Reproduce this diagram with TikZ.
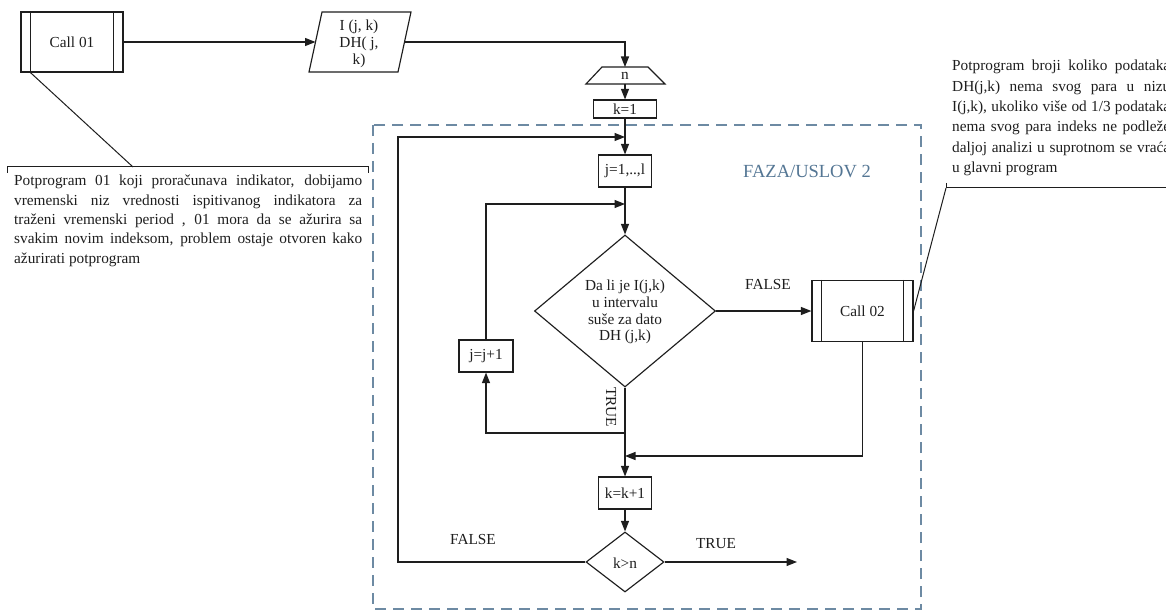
\documentclass[tikz,border=0pt]{standalone}
\usepackage{fontspec}
\setmainfont{Liberation Serif}
\usetikzlibrary{arrows.meta,shapes.geometric}
\definecolor{phaseblue}{RGB}{109,138,163}
\definecolor{phasetext}{RGB}{84,118,148}
\definecolor{ink}{RGB}{30,30,30}
\begin{document}
\begin{tikzpicture}[x=1pt,y=-1pt,
  every node/.style={font=\fontsize{15.3}{16.7}\selectfont, text=ink},
  ln/.style={line width=1.15pt, draw=ink},
  arr/.style={ln, -{Triangle[length=10.5pt,width=8pt]}},
  pbox/.style={rectangle, draw=ink, line width=1.15pt, fill=white, inner sep=0pt},
  dia/.style={diamond, draw=ink, line width=1.15pt, fill=white, inner sep=0pt},
  lbl/.style={inner sep=0pt},
  note/.style={anchor=north west, inner sep=0pt, align=left},
  phase/.style={draw=phaseblue, line width=1.2pt, dash pattern=on 11pt off 7pt}
]
\useasboundingbox (0,0) rectangle (1166,612);
\clip (0,0) rectangle (1166,612);
\fill[white] (0,0) rectangle (1166,612);

% phase frame
\draw[phase] (373,125) rectangle (921,609);
\node[font=\fontsize{18.5}{20}\selectfont, text=phasetext, anchor=west, inner sep=0pt] (faza) at (743,172) {FAZA/USLOV 2};

% Call 01
\node[pbox, minimum width=102pt, minimum height=60pt] (call01) at (72,42) {Call 01};
\draw[ln] ([xshift=10pt]call01.north west) -- ([xshift=10pt]call01.south west);
\draw[ln] ([xshift=-10pt]call01.north east) -- ([xshift=-10pt]call01.south east);

% input parallelogram
\draw[ln, fill=white] (309,72) -- (322,12) -- (411,12) -- (398,72) -- cycle;
\node[align=center, font=\fontsize{15.3}{17}\selectfont] (io) at (359,44) {I (j, k)\\DH( j,\\k)};
\coordinate (ioL) at (315.5,42);
\coordinate (ioR) at (404.5,42);

% n trapezoid
\draw[ln, fill=white] (586,84) -- (602,67) -- (648,67) -- (665,84) -- cycle;
\node (n) at (625,76) {n};
\coordinate (nT) at (625,67);
\coordinate (nB) at (625,84);

% process boxes
\node[pbox, minimum width=63pt, minimum height=18pt] (k1) at (625,109) {k=1};
\node[pbox, minimum width=53pt, minimum height=32pt] (j1) at (625,171) {j=1,..,l};
\node[dia, minimum width=181pt, minimum height=152pt] (d1) at (625,311) {};
\node[align=center, inner sep=0pt] (d1t) at (625,312) {Da li je I(j,k)\\u intervalu\\suše za dato\\DH (j,k)};
\node[pbox, minimum width=101pt, minimum height=61pt] (call02) at (862.5,311) {Call 02};
\draw[ln] ([xshift=10pt]call02.north west) -- ([xshift=10pt]call02.south west);
\draw[ln] ([xshift=-10pt]call02.north east) -- ([xshift=-10pt]call02.south east);
\node[pbox, minimum width=54pt, minimum height=32pt] (jj) at (486,356) {j=j+1};
\node[pbox, minimum width=53pt, minimum height=32pt] (kk) at (625,493) {k=k+1};
\node[dia, minimum width=78pt, minimum height=60pt] (d2) at (625,562) {};
\node[inner sep=0pt] (d2t) at (625,563) {k>n};

% helper coordinates
\coordinate (cTrue) at (625,433);
\coordinate (cJ) at (625,204);
\coordinate (cMerge) at (625,456);
\coordinate (cOut) at (797,562);
\coordinate (cLoop) at (398,562);
\coordinate (cTop) at (625,137);

% connectors
\draw[arr] (call01.east) -- (ioL);
\draw[arr] (ioR) -| (nT);
\draw[arr] (nB) -- (k1.north);
\draw[arr] (k1.south) -- (j1.north);
\draw[arr] (j1.south) -- (d1.north);
\draw[arr] (d1.east) -- (call02.west);
\draw[arr] (cTrue) -| (jj.south);
\draw[arr] (jj.north) |- (cJ);
\draw[arr] (d1.south) -- (kk.north);
\draw[arr] (call02.south) |- (cMerge);
\draw[arr] (kk.south) -- (d2.north);
\draw[arr] (d2.east) -- (cOut);
\draw[arr] (d2.west) -- (cLoop) |- (cTop);

% labels
\node[lbl] (f1) at (768,285) {FALSE};
\node[lbl, rotate=-90] (t1) at (611,407) {TRUE};
\node[lbl] (f2) at (473,540) {FALSE};
\node[lbl] (t2) at (716,544) {TRUE};

% annotation 1
\coordinate (b1) at (133,167);
\draw[ln, line width=1pt] (7,173) -- (7,167) -- (368,167) -- (368,173);
\draw[ln, line width=1pt] ([xshift=10pt]call01.south west) -- (b1);
\node[note, font=\fontsize{15.3}{19.3}\selectfont] (ann1) at (14,175) {%
\makebox[348pt][s]{Potprogram 01 koji proračunava indikator, dobijamo}\\
\makebox[348pt][s]{vremenski niz vrednosti ispitivanog indikatora za}\\
\makebox[348pt][s]{traženi vremenski period , 01 mora da se ažurira sa}\\
\makebox[348pt][s]{svakim novim indeksom, problem ostaje otvoren kako}\\
ažurirati potprogram};

% annotation 2
\coordinate (b2) at (946,188);
\draw[ln, line width=1pt] (946,183) -- (b2) -- (1166,188);
\draw[ln, line width=1pt] (b2) -- (call02.east);
\node[note, font=\fontsize{15.3}{20.3}\selectfont] (ann2) at (952,60) {%
\makebox[218pt][s]{Potprogram broji koliko podataka}\\
\makebox[218pt][s]{DH(j,k) nema svog para u nizu}\\
\makebox[218pt][s]{I(j,k), ukoliko više od 1/3 podataka}\\
\makebox[218pt][s]{nema svog para indeks ne podleže}\\
\makebox[218pt][s]{daljoj analizi u suprotnom se vraća}\\
u glavni program};
\end{tikzpicture}
\end{document}
